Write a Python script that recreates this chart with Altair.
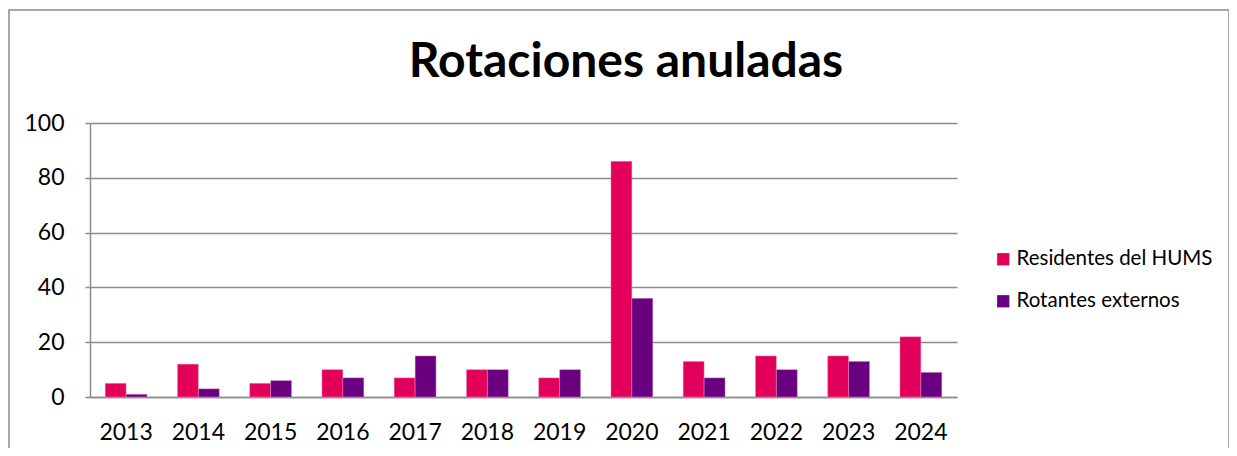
import altair as alt
import pandas as pd

years = ["2013", "2014", "2015", "2016", "2017", "2018", "2019", "2020", "2021", "2022", "2023", "2024"]
residentes = [5, 12, 5, 10, 7, 10, 7, 86, 13, 15, 15, 22]
rotantes = [1, 3, 6, 7, 15, 10, 10, 36, 7, 10, 13, 9]
series = ["Residentes del HUMS", "Rotantes externos"]
colors = ["#E3005A", "#680080"]
title_text = "Rotaciones anuladas"

rows = []
for i, y in enumerate(years):
    rows.append({"year": y, "serie": series[0], "value": residentes[i]})
    rows.append({"year": y, "serie": series[1], "value": rotantes[i]})
df = pd.DataFrame(rows)

FONT = "Lato"

bars = alt.Chart(df).mark_bar(stroke="#f0a0c8", strokeWidth=0.6, strokeOpacity=0.7).encode(
    x=alt.X("year:N", sort=years, title=None,
            scale=alt.Scale(paddingInner=0.42, paddingOuter=0.21),
            axis=alt.Axis(labelAngle=0, labelFontSize=23, labelFont=FONT, labelColor="#000",
                          labelPadding=24, ticks=False, domainColor="#8c8c8c", domainWidth=1.5,
                          grid=False)),
    xOffset=alt.XOffset("serie:N", sort=series),
    y=alt.Y("value:Q", title=None,
            scale=alt.Scale(domain=[0, 100], nice=False),
            axis=alt.Axis(values=[0, 20, 40, 60, 80, 100], labelFontSize=23, labelFont=FONT,
                          labelColor="#000", labelPadding=21, tickSize=5, tickColor="#8c8c8c",
                          tickWidth=1.5, domainColor="#8c8c8c", domainWidth=1.5,
                          gridColor="#8c8c8c", gridWidth=1.5)),
    color=alt.Color("serie:N", sort=series,
                    scale=alt.Scale(domain=series, range=colors),
                    legend=alt.Legend(title=None, orient="none", legendX=903, legendY=126,
                                      symbolType="square", symbolSize=150, symbolStrokeWidth=0,
                                      labelFontSize=20.5, labelFont=FONT, labelColor="#000",
                                      labelLimit=400, rowPadding=21, labelOffset=3)),
)

one = pd.DataFrame({"t": [title_text]})

border = alt.Chart(one).mark_rect(
    fill=None, stroke="#8c8c8c", strokeWidth=1.5, clip=False
).encode(x=alt.value(-81), x2=alt.value(1139), y=alt.value(-113), y2=alt.value(360))

title = alt.Chart(one).mark_text(
    font=FONT, fontSize=48, fontWeight="bold", color="#000", align="center",
    baseline="alphabetic", clip=False
).encode(text="t:N", x=alt.value(536), y=alt.value(-46))

chart = alt.layer(border, bars, title).properties(
    width=867, height=274,
    autosize=alt.AutoSizeParams(type="none"),
    padding={"left": 82, "top": 115, "right": 272, "bottom": 51},
).configure_view(stroke=None)

chart.save("out.html", embed_options={"renderer": "svg", "actions": False})
